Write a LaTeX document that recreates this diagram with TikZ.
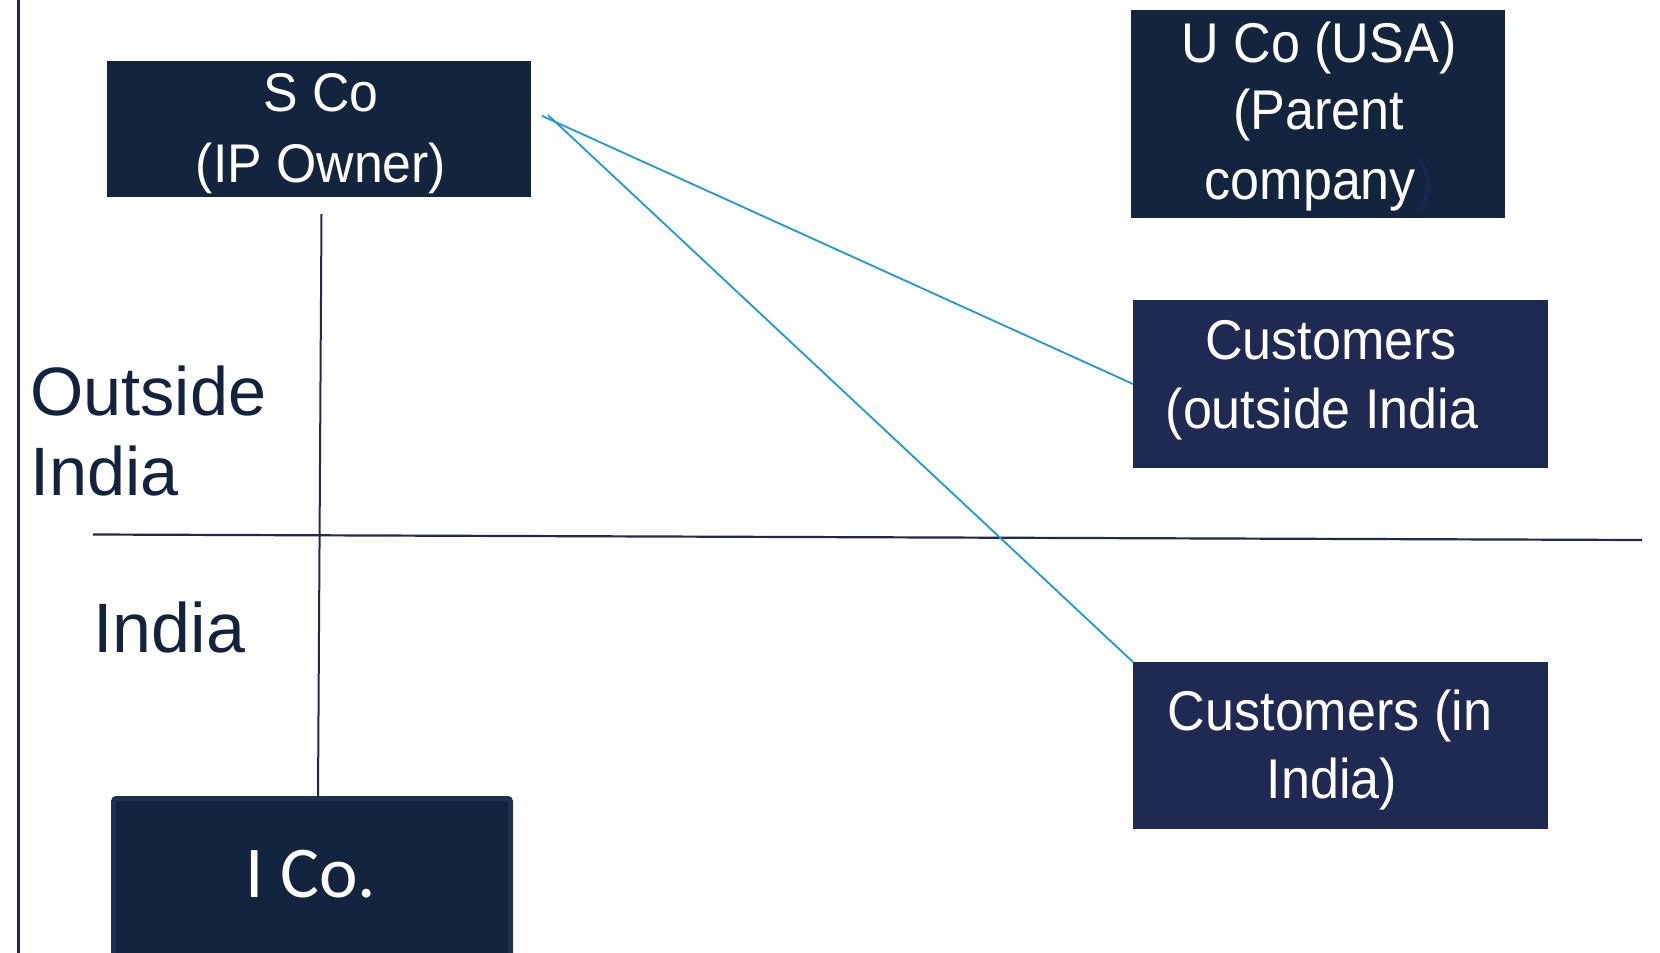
\documentclass[tikz,border=0pt]{standalone}
\usepackage{fontspec}
\setmainfont{Liberation Sans}
\newfontfamily\calibrifont{Carlito}
\newfontfamily\narrowA[FakeStretch=0.95]{Liberation Sans}
\newfontfamily\narrowB[FakeStretch=0.93]{Liberation Sans}
\definecolor{boxnavy}{HTML}{13243F}
\definecolor{custnavy}{HTML}{1F2A52}
\definecolor{linenavy}{HTML}{1F2A4F}
\definecolor{textnavy}{HTML}{13233F}
\definecolor{linkblue}{HTML}{1A9BD7}
\definecolor{icoborder}{HTML}{1D3250}
\definecolor{hiddenparen}{HTML}{1C2650}
\begin{document}
\begin{tikzpicture}[x=1pt,y=-1pt,
  darkbox/.style={fill=boxnavy, draw=none, inner sep=0pt, outer sep=0pt, anchor=north west},
  custbox/.style={fill=custnavy, draw=none, inner sep=0pt, outer sep=0pt, anchor=north west},
  boxtext/.style={text=white, inner sep=0pt, anchor=base, font=\narrowA\fontsize{54.5pt}{60pt}\selectfont},
  rtext/.style={text=white, inner sep=0pt, anchor=base, font=\narrowB\fontsize{56pt}{64pt}\selectfont},
  regiontext/.style={text=textnavy, inner sep=0pt, anchor=base west, font=\fontsize{68.5pt}{80pt}\selectfont},
  frameline/.style={draw=linenavy, line width=2.2pt},
  linkline/.style={draw=linkblue, line width=1.8pt}
]
\useasboundingbox (0,0) rectangle (1660,953);

% boxes
\node[darkbox, minimum width=424pt, minimum height=136pt] (sco) at (107,61) {};
\node[darkbox, minimum width=374pt, minimum height=208pt] (uco) at (1131,10) {};
\node[custbox, minimum width=415pt, minimum height=168pt] (custout) at (1133,300) {};
\node[custbox, minimum width=415pt, minimum height=167pt] (custin) at (1133,662) {};
\node[darkbox, draw=icoborder, line width=5pt, rounded corners=3pt,
      minimum width=397pt, minimum height=170pt] (ico) at (113.5,798.5) {};

% box texts
\node[boxtext] (scoA) at (321,111) {S Co};
\node[boxtext] (scoB) at (321,182) {(IP Owner)};
\node[rtext] (ucoA) at (1319,62) {U Co (USA)};
\node[rtext] (ucoB) at (1319,129) {(Parent};
\node[rtext] (ucoC) at (1319,199) {company\textcolor{hiddenparen}{)}};
\node[rtext] (coA) at (1331,359) {Customers};
\node[rtext] (coB) at (1322,428) {(outside India};
\node[rtext] (ciA) at (1330,730) {Customers (in};
\node[rtext] (ciB) at (1332,798) {India)};
\node[text=white, inner sep=0pt, anchor=base, font=\calibrifont\fontsize{73pt}{80pt}\selectfont] (icoT) at (311,897) {I Co.};

% region labels
\node[regiontext] (outA) at (30,415) {Outside};
\node[regiontext] (outB) at (30,495) {India};
\node[regiontext, font=\fontsize{70pt}{80pt}\selectfont] (ind) at (93,652) {India};

% frame lines
\coordinate (lt) at (18.5,0);
\coordinate (lb) at (18.5,953);
\coordinate (hl) at (93,534.5);
\coordinate (hr) at (1642,540);
\coordinate (vtop) at (321.5,214);
\draw[frameline] (lt) -- (lb);
\draw[frameline] (hl) -- (hr);
\draw[linenavy, line width=2pt] (vtop) -- ([xshift=6pt]ico.north);

% links
\coordinate (b1) at (541.7,115.7);
\coordinate (b2) at (548,115);
\draw[linkline] (b1) -- (custout.west);
\draw[linkline] (b2) -- (custin.north west);
\end{tikzpicture}
\end{document}
